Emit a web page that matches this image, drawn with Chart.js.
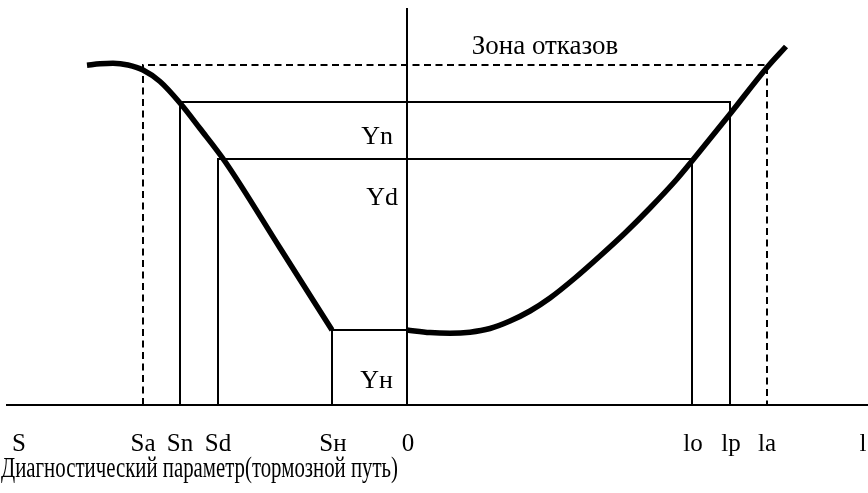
<!DOCTYPE html>
<html>
<head>
<meta charset="utf-8">
<script src="https://cdn.jsdelivr.net/npm/chart.js@4/dist/chart.umd.min.js"></script>
<style>
html,body{margin:0;padding:0;background:#fff;}
#wrap{width:868px;height:493px;}
</style>
</head>
<body>
<div id="wrap"><canvas id="c" width="868" height="493"></canvas></div>
<script>
// x: diagnostic parameter (braking distance), origin at 0; y: diagnostic level
const tickLabels    = ['S', 'Sa', 'Sn', 'Sd', 'S\u043d', '0', 'lo', 'lp', 'la', 'l'];
const tickPositions = [-38.8, -26.4, -22.7, -18.9, -7.4, 0.1, 28.6, 32.4, 36.0, 45.6];

const limitX = { Sa: -26.4, Sn: -22.7, Sd: -18.9, Sh: -7.5, lo: 28.5, lp: 32.3, la: 36.0 };
const levelNames  = ['Ya', 'Yn', 'Yd', 'Y\u043d'];
const levelValues = [34.0, 30.3, 24.6, 7.5];

const levelLabels     = ['Yn', 'Yd', 'Y\u043d'];
const levelLabelY     = [26.1, 20.0, 1.7];
const levelLabelRight = [-1.4, -0.9, -1.4];

const zoneLabel = '\u0417\u043e\u043d\u0430 \u043e\u0442\u043a\u0430\u0437\u043e\u0432';
const axisTitle = '\u0414\u0438\u0430\u0433\u043d\u043e\u0441\u0442\u0438\u0447\u0435\u0441\u043a\u0438\u0439 \u043f\u0430\u0440\u0430\u043c\u0435\u0442\u0440(\u0442\u043e\u0440\u043c\u043e\u0437\u043d\u043e\u0439 \u043f\u0443\u0442\u044c)';

// left (negative) branch of the curve
const leftCurveX = [-32.0, -30.7, -29.4, -27.9, -26.4, -24.7, -22.7, -20.7, -18.2, -12.7, -7.5];
const leftCurveY = [33.97, 34.12, 34.18, 34.0, 33.5, 32.35, 30.2, 27.65, 24.35, 15.7, 7.5];
// right (positive) branch of the curve
const rightCurveX = [0, 2.3, 4.3, 6.3, 8.3, 10.3, 12.3, 14.3, 16.8, 19.3, 21.8, 24.3, 27.0, 28.5, 32.3, 36.0, 37.9];
const rightCurveY = [7.5, 7.24, 7.17, 7.28, 7.65, 8.4, 9.4, 10.7, 12.7, 14.9, 17.2, 19.7, 22.6, 24.4, 29.1, 33.75, 35.85];

const axisXRange = [-40.1, 46.1];
const axisYTop = 39.7;

const Ya = levelValues[0], Yn = levelValues[1], Yd = levelValues[2], Yh = levelValues[3];

function pts(xs, ys){ return xs.map((x,i)=>({x:x, y:ys[i]})); }
function frame(x1, y, x2){ return [{x:x1,y:0},{x:x1,y:y},{x:x2,y:y},{x:x2,y:0}]; }

const thin = {borderColor:'#000', borderWidth:2, pointRadius:0, fill:false, tension:0};
const thick = {borderColor:'#000', borderWidth:5.5, pointRadius:0, fill:false, cubicInterpolationMode:'monotone'};

const datasets = [
  Object.assign({label:'axisX', data:[{x:axisXRange[0],y:0},{x:axisXRange[1],y:0}]}, thin),
  Object.assign({label:'axisY', data:[{x:0,y:0},{x:0,y:axisYTop}]}, thin),
  Object.assign({label:'failure', data:frame(limitX.Sa, Ya, limitX.la), borderDash:[7,4.5]}, thin),
  Object.assign({label:'Yn', data:frame(limitX.Sn, Yn, limitX.lp)}, thin),
  Object.assign({label:'Yd', data:frame(limitX.Sd, Yd, limitX.lo)}, thin),
  Object.assign({label:'Yh', data:[{x:limitX.Sh,y:0},{x:limitX.Sh,y:Yh},{x:0,y:Yh}]}, thin),
  Object.assign({label:'left', data:pts(leftCurveX, leftCurveY)}, thick),
  Object.assign({label:'right', data:pts(rightCurveX, rightCurveY)}, thick)
];

const SERIF = '"Liberation Serif", "Times New Roman", serif';

const textPlugin = {
  id:'texts',
  afterDatasetsDraw(chart){
    const ctx = chart.ctx, xs = chart.scales.x, ys = chart.scales.y;
    ctx.save();
    ctx.fillStyle = '#000';
    ctx.textBaseline = 'alphabetic';
    // bottom tick labels
    ctx.font = '25px ' + SERIF;
    ctx.textAlign = 'center';
    tickLabels.forEach((t,i)=>{
      ctx.fillText(t, xs.getPixelForValue(tickPositions[i]), ys.getPixelForValue(-4.6));
    });
    // axis title, condensed to its width in the reference
    ctx.font = '26px ' + SERIF;
    ctx.textAlign = 'left';
    const tx = xs.getPixelForValue(-40.6), tx2 = xs.getPixelForValue(-0.9);
    const w = ctx.measureText(axisTitle).width;
    ctx.save();
    ctx.translate(tx, ys.getPixelForValue(-7.2));
    ctx.scale(Math.min(1, (tx2 - tx) / w), 1.12);
    ctx.fillText(axisTitle, 0, 0);
    ctx.restore();
    // level labels
    ctx.font = '26px ' + SERIF;
    ctx.textAlign = 'right';
    levelLabels.forEach((t,i)=>{
      ctx.fillText(t, xs.getPixelForValue(levelLabelRight[i]), ys.getPixelForValue(levelLabelY[i]));
    });
    // zone label
    ctx.font = '27px ' + SERIF;
    ctx.textAlign = 'center';
    ctx.fillText(zoneLabel, xs.getPixelForValue(13.8), ys.getPixelForValue(35.1));
    ctx.restore();
  }
};

new Chart(document.getElementById('c'), {
  type:'line',
  data:{datasets:datasets},
  options:{
    responsive:false,
    animation:false,
    layout:{padding:0},
    plugins:{legend:{display:false}, tooltip:{enabled:false}},
    scales:{
      x:{type:'linear', display:false, min:-40.7, max:46.1},
      y:{type:'linear', display:false, min:-8.8, max:40.5}
    }
  },
  plugins:[textPlugin]
});
</script>
</body>
</html>
